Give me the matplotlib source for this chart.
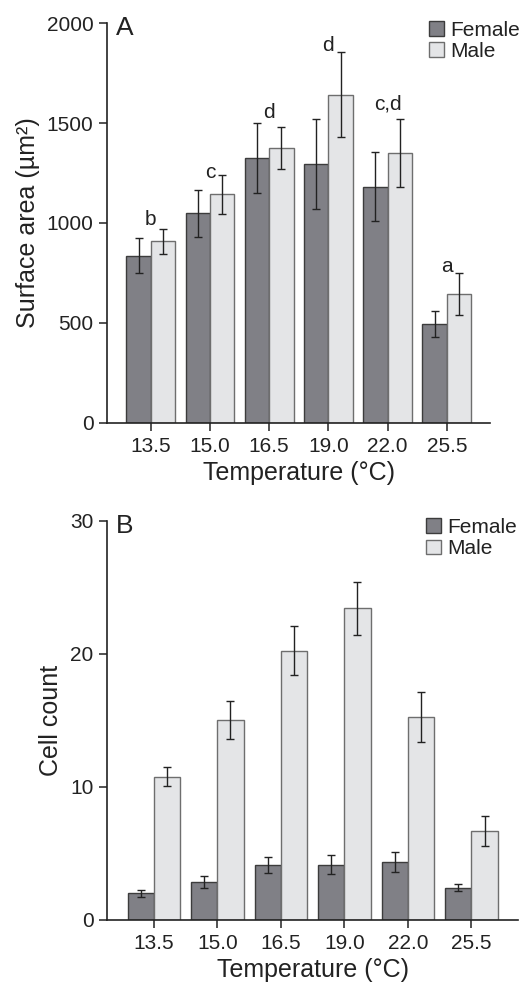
import matplotlib
matplotlib.use("Agg")
import matplotlib.pyplot as plt
import numpy as np
from matplotlib.patches import Patch

plt.rcParams.update({
    "font.family": ["Liberation Sans", "DejaVu Sans"],
    "font.size": 15,
    "text.color": "#222222",
    "axes.labelcolor": "#222222",
    "xtick.color": "#222222",
    "ytick.color": "#222222",
})

TEMPS = ["13.5", "15.0", "16.5", "19.0", "22.0", "25.5"]

# panel A: surface area (um^2)
AREA_F = [836, 1048, 1326, 1295, 1182, 494]
AREA_F_ERR = [87, 118, 177, 225, 172, 65]
AREA_M = [908, 1144, 1376, 1643, 1349, 643]
AREA_M_ERR = [64, 98, 107, 213, 171, 105]
LETTERS = ["b", "c", "d", "d", "c,d", "a"]
LETTER_Y = [990, 1224, 1524, 1862, 1569, 756]

# panel B: cell count
COUNT_F = [2.0, 2.83, 4.11, 4.16, 4.33, 2.43]
COUNT_F_ERR = [0.25, 0.44, 0.59, 0.70, 0.76, 0.26]
COUNT_M = [10.77, 15.0, 20.24, 23.42, 15.25, 6.69]
COUNT_M_ERR = [0.72, 1.43, 1.82, 1.99, 1.89, 1.14]

F_COLOR = "#808086"
M_COLOR = "#e4e5e7"
F_EDGE = "#3c3c3c"
M_EDGE = "#6e6e6e"
WIDTH = 0.412


def draw_panel(ax, female, female_err, male, male_err, ylim, yticks, ylabel, tag):
    x = np.arange(len(TEMPS))
    err_kw = dict(ecolor="#222222", elinewidth=1.0, capsize=3, capthick=1.0)
    ax.bar(x - WIDTH / 2, female, WIDTH, yerr=female_err, color=F_COLOR,
           edgecolor=F_EDGE, linewidth=1.0, error_kw=err_kw)
    ax.bar(x + WIDTH / 2, male, WIDTH, yerr=male_err, color=M_COLOR,
           edgecolor=M_EDGE, linewidth=1.0, error_kw=err_kw)

    ax.set_xlim(-0.733, len(TEMPS) - 1 + 0.731)
    ax.set_ylim(*ylim)
    ax.set_yticks(yticks)
    ax.set_xticks(x)
    ax.set_xticklabels(TEMPS)
    ax.set_xlabel("Temperature (°C)", fontsize=18, labelpad=4)
    ax.set_ylabel(ylabel, fontsize=18, labelpad=5)
    for side in ("top", "right"):
        ax.spines[side].set_visible(False)
    for side in ("left", "bottom"):
        ax.spines[side].set_linewidth(1.2)
        ax.spines[side].set_color("#222222")
    ax.tick_params(direction="out", length=6, width=1.1, labelsize=15, pad=4)
    ax.text(0.022, 1.018, tag, transform=ax.transAxes, fontsize=19,
            ha="left", va="top")

    handles = [Patch(facecolor=F_COLOR, edgecolor=F_EDGE, label="Female"),
               Patch(facecolor=M_COLOR, edgecolor=M_EDGE, label="Male")]
    return handles


fig = plt.figure(figsize=(5.25, 9.83), dpi=100)
ax_a = fig.add_axes([0.2044, 0.570, 0.729, 0.4063])
ax_b = fig.add_axes([0.2044, 0.0641, 0.782, 0.4062])

h = draw_panel(ax_a, AREA_F, AREA_F_ERR, AREA_M, AREA_M_ERR, (0, 2000),
               [0, 500, 1000, 1500, 2000], "Surface area (µm²)", "A")
for i, (lab, y) in enumerate(zip(LETTERS, LETTER_Y)):
    ax_a.text(i, y, lab, ha="center", va="baseline", fontsize=15)
legend_kw = dict(loc="upper left", frameon=False, fontsize=15,
                 handlelength=0.72, handleheight=0.7, handletextpad=0.3,
                 labelspacing=0.1, borderpad=0, borderaxespad=0)
fig.legend(handles=h, bbox_to_anchor=(0.818, 0.979), **legend_kw)

h = draw_panel(ax_b, COUNT_F, COUNT_F_ERR, COUNT_M, COUNT_M_ERR, (0, 30),
               [0, 10, 20, 30], "Cell count", "B")
fig.legend(handles=h, bbox_to_anchor=(0.812, 0.473), **legend_kw)

fig.savefig("out.png", dpi=100)
